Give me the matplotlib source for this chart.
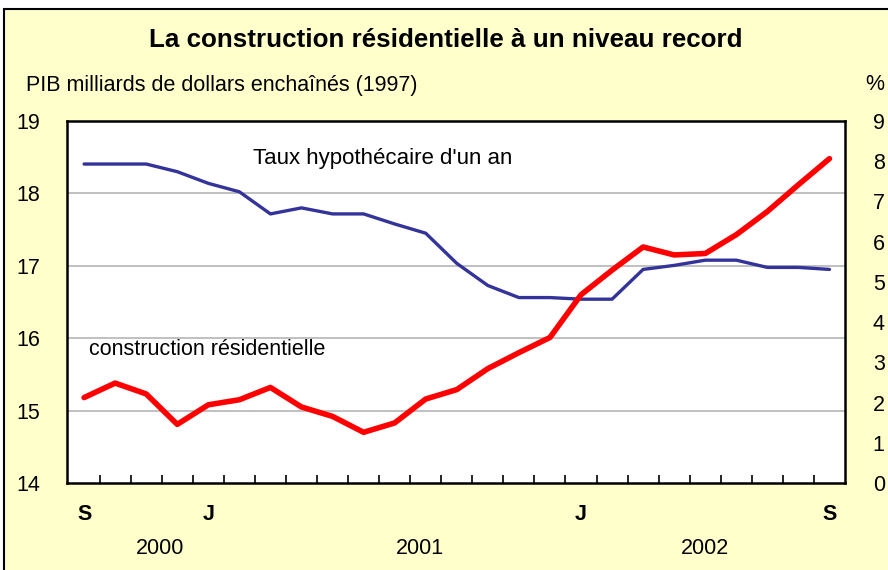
import matplotlib
matplotlib.use("Agg")
import matplotlib.pyplot as plt
from matplotlib.patches import Rectangle
import numpy as np

plt.rcParams['font.family'] = ['Liberation Sans', 'DejaVu Sans']

# Data: monthly, Sep 2000 .. Sep 2002
construction = [15.18, 15.38, 15.23, 14.81, 15.08, 15.15, 15.32, 15.05, 14.92, 14.70,
                14.83, 15.16, 15.29, 15.58, 15.80, 16.01, 16.60, 16.94, 17.26, 17.15,
                17.17, 17.43, 17.75, 18.12, 18.48]
taux = [7.93, 7.93, 7.93, 7.74, 7.45, 7.24, 6.69, 6.84, 6.69, 6.69,
        6.44, 6.21, 5.46, 4.91, 4.61, 4.61, 4.57, 4.57, 5.31, 5.41,
        5.54, 5.54, 5.36, 5.36, 5.31]
month_labels = ['S', 'J', 'J', 'S']
month_idx = [0, 4, 16, 24]
year_labels = ['2000', '2001', '2002']
year_pos = [2.45, 10.8, 20.0]
left_ticks = [14, 15, 16, 17, 18, 19]
right_ticks = list(range(0, 10))

title = "La construction résidentielle à un niveau record"
left_label = "PIB milliards de dollars enchaînés (1997)"
series1_label = "construction résidentielle"
series2_label = "Taux hypothécaire d'un an"

W, H = 888, 570
fig = plt.figure(figsize=(W / 100, H / 100), dpi=100)
fig.patch.set_facecolor('white')
bg = '#FFFFCC'
fig.patches.append(Rectangle((3.5 / W, -0.1), 1.2, (H - 8.5) / H + 0.1,
                             transform=fig.transFigure, facecolor=bg,
                             edgecolor='black', linewidth=1.5, zorder=-10))

x = np.arange(len(construction))
ax = fig.add_axes([67 / W, 1 - 483 / H, (845 - 67) / W, (483 - 121) / H])
ax.set_facecolor('white')
ax.set_xlim(-0.55, 24.5)
ax.set_ylim(14, 19)
ax.set_yticks(left_ticks)
ax.set_yticklabels([str(t) for t in left_ticks])
ax.tick_params(axis='y', length=0, pad=19, labelsize=15.5)
for v in left_ticks[1:-1]:
    ax.axhline(v, color='#C0C0C0', linewidth=1.4, zorder=1)

ax.set_xticks(np.arange(0.5, 24, 1.0))
ax.set_xticklabels([])
ax.tick_params(axis='x', direction='in', length=6, width=1.2, color='black')

for s in ax.spines.values():
    s.set_linewidth(1.8)
    s.set_color('black')

ax2 = ax.twinx()
ax2.set_ylim(0, 9)
ax2.set_yticks(right_ticks)
ax2.set_yticklabels([str(t) for t in right_ticks])
ax2.tick_params(axis='y', length=0, pad=20, labelsize=15.5)
for s in ax2.spines.values():
    s.set_visible(False)

ax2.plot(x, taux, color='#333399', linewidth=2.4, solid_capstyle='round', zorder=3)
ax.set_zorder(1)
ax2.set_zorder(2)
ax2.patch.set_visible(False)
# red series drawn on top, through the left-axis scale
ax2.plot(x, construction, color='#FF0000', linewidth=4.0, solid_capstyle='round',
         zorder=4, transform=ax.transData)

ax.text(5.45, 18.48, series2_label, fontsize=16, va='center', ha='left', zorder=5)
ax.text(0.15, 15.85, series1_label, fontsize=15.5, va='center', ha='left', zorder=5)

tr = ax.get_xaxis_transform()
for lab, i in zip(month_labels, month_idx):
    ax.text(i, -32 / 362, lab, transform=tr, ha='center', va='center',
            fontsize=15.5, fontweight='bold')
for lab, p in zip(year_labels, year_pos):
    ax.text(p, -65 / 362, lab, transform=tr, ha='center', va='center', fontsize=15.5)

fig.text(446 / W, 1 - 40 / H, title, ha='center', va='center', fontsize=18.7,
         fontweight='bold')
fig.text(26 / W, 1 - 85 / H, left_label, ha='left', va='center', fontsize=15.5)
fig.text(875 / W, 1 - 85 / H, '%', ha='center', va='center', fontsize=15.5)

fig.savefig('out.png', dpi=100, facecolor=fig.get_facecolor())
